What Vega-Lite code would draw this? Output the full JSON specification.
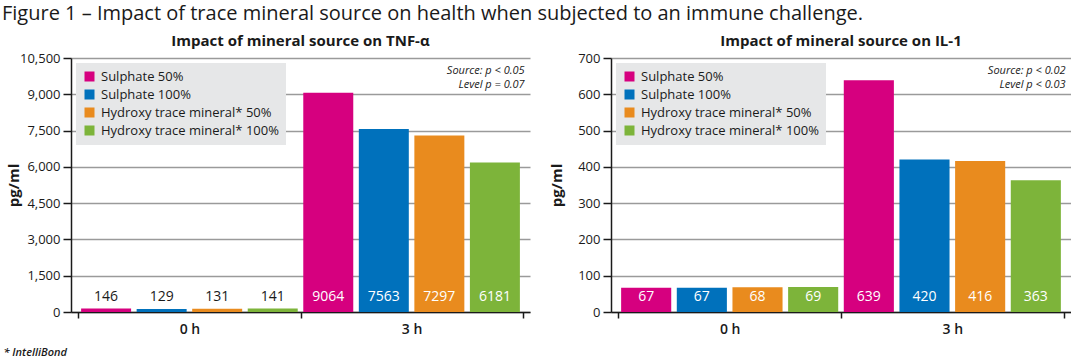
{
  "$schema": "https://vega.github.io/schema/vega-lite/v6.json",
  "padding": {"top": 4, "left": 2, "right": 0, "bottom": 0},
  "background": "white",
  "title": {
    "text": "Figure 1 – Impact of trace mineral source on health when subjected to an immune challenge.",
    "anchor": "start",
    "fontSize": 20,
    "fontWeight": "normal",
    "font": "Open Sans",
    "color": "#1a1a1a",
    "offset": 10,
    "dx": -1
  },
  "datasets": {
    "tnf": [
      {"time": "0 h", "group": "Sulphate 50%", "value": 146},
      {"time": "0 h", "group": "Sulphate 100%", "value": 129},
      {"time": "0 h", "group": "Hydroxy trace mineral* 50%", "value": 131},
      {"time": "0 h", "group": "Hydroxy trace mineral* 100%", "value": 141},
      {"time": "3 h", "group": "Sulphate 50%", "value": 9064},
      {"time": "3 h", "group": "Sulphate 100%", "value": 7563},
      {"time": "3 h", "group": "Hydroxy trace mineral* 50%", "value": 7297},
      {"time": "3 h", "group": "Hydroxy trace mineral* 100%", "value": 6181}
    ],
    "il1": [
      {"time": "0 h", "group": "Sulphate 50%", "value": 67},
      {"time": "0 h", "group": "Sulphate 100%", "value": 67},
      {"time": "0 h", "group": "Hydroxy trace mineral* 50%", "value": 68},
      {"time": "0 h", "group": "Hydroxy trace mineral* 100%", "value": 69},
      {"time": "3 h", "group": "Sulphate 50%", "value": 639},
      {"time": "3 h", "group": "Sulphate 100%", "value": 420},
      {"time": "3 h", "group": "Hydroxy trace mineral* 50%", "value": 416},
      {"time": "3 h", "group": "Hydroxy trace mineral* 100%", "value": 363}
    ]
  },
  "config": {
    "font": "Open Sans",
    "view": {"stroke": null},
    "title": {"fontSize": 15, "fontWeight": "bold", "color": "#1a1a1a", "offset": 3},
    "axisY": {
      "labelFontSize": 13,
      "labelColor": "#1a1a1a",
      "tickSize": 8,
      "labelPadding": 3,
      "grid": true,
      "gridColor": "#9a9a9a",
      "gridWidth": 1.5,
      "domainColor": "#1a1a1a",
      "domainWidth": 1.5,
      "tickColor": "#1a1a1a",
      "tickWidth": 1.5,
      "titleFontSize": 15,
      "titleFontWeight": "bold",
      "titleColor": "#1a1a1a"
    },
    "axisX": {
      "labelAngle": 0,
      "labelFontSize": 14,
      "labelFontWeight": 600,
      "labelColor": "#1a1a1a",
      "domainColor": "#1a1a1a",
      "domainWidth": 1.5,
      "tickSize": 6,
      "tickBand": "extent",
      "tickColor": "#1a1a1a",
      "tickWidth": 1.5,
      "labelPadding": 4,
      "grid": false
    },
    "legend": {
      "orient": "top-left",
      "offset": 5,
      "fillColor": "#e6e7e8",
      "padding": 7,
      "symbolType": "square",
      "symbolSize": 100,
      "symbolStrokeWidth": 0,
      "symbolOpacity": 1,
      "labelFontSize": 13,
      "labelColor": "#1a1a1a",
      "rowPadding": 4,
      "labelOffset": 5,
      "labelLimit": 300
    }
  },
  "spacing": 19,
  "resolve": {
    "scale": {"color": "independent", "y": "independent", "x": "independent", "xOffset": "independent"},
    "legend": {"color": "independent"}
  },
  "hconcat": [
    {
      "width": 459,
      "height": 254,
      "title": {"text": "Impact of mineral source on TNF-α"},
      "data": {"name": "tnf"},
      "layer": [
        {
          "mark": {"type": "bar"},
          "encoding": {
            "x": {
              "field": "time", "type": "nominal",
              "scale": {"paddingInner": 0, "paddingOuter": 0.033},
              "axis": {
                "title": "* IntelliBond",
                "titleFontSize": 11,
                "titleFontStyle": "italic",
                "titleFontWeight": 600,
                "titleColor": "#1a1a1a",
                "titleAnchor": "start",
                "titleAlign": "left",
                "titleBaseline": "middle",
                "titleX": -68,
                "titleY": 40,
                "encode": {"ticks": {"update": {"strokeOpacity": {"signal": "datum.value === '3 h' && !datum.extra ? 0 : 1"}}}}
              }
            },
            "xOffset": {
              "field": "group", "type": "nominal",
              "sort": ["Sulphate 50%", "Sulphate 100%", "Hydroxy trace mineral* 50%", "Hydroxy trace mineral* 100%"],
              "scale": {"paddingInner": 0.1, "paddingOuter": 0.05}
            },
            "y": {
              "field": "value", "type": "quantitative",
              "scale": {"domain": [0, 10500], "nice": false},
              "axis": {"values": [0, 1500, 3000, 4500, 6000, 7500, 9000, 10500], "format": ",d", "title": "pg/ml", "titleX": -50}
            },
            "color": {
              "field": "group", "type": "nominal",
              "scale": {
                "domain": ["Sulphate 50%", "Sulphate 100%", "Hydroxy trace mineral* 50%", "Hydroxy trace mineral* 100%"],
                "range": ["#d6007f", "#0071bc", "#e98b1e", "#7db43a"]
              },
              "legend": {"title": null}
            }
          }
        },
        {
          "mark": {"type": "text", "baseline": "middle", "dy": -15, "fontSize": 14},
          "encoding": {
            "x": {"field": "time", "type": "nominal"},
            "xOffset": {"field": "group", "type": "nominal", "sort": ["Sulphate 50%", "Sulphate 100%", "Hydroxy trace mineral* 50%", "Hydroxy trace mineral* 100%"]},
            "y": {"datum": 0, "type": "quantitative", "axis": {"values": [0, 1500, 3000, 4500, 6000, 7500, 9000, 10500], "format": ",d", "title": "pg/ml", "titleX": -50}},
            "text": {"field": "value", "type": "nominal"},
            "color": {"condition": {"test": "datum.value < 1000", "value": "#1a1a1a"}, "value": "white"}
          }
        },
        {
          "data": {"values": [{"note": "Source: p < 0.05\nLevel p = 0.07"}]},
          "mark": {"type": "text", "align": "right", "baseline": "top", "fontStyle": "italic", "fontSize": 11, "lineBreak": "\n", "lineHeight": 14, "dx": 2, "dy": 7, "color": "#1a1a1a"},
          "encoding": {
            "x": {"datum": "3 h", "bandPosition": 1},
            "y": {"datum": 10500, "type": "quantitative", "axis": {"values": [0, 1500, 3000, 4500, 6000, 7500, 9000, 10500], "format": ",d", "title": "pg/ml", "titleX": -50}},
            "text": {"field": "note"}
          }
        }
      ]
    },
    {
      "width": 460,
      "height": 254,
      "title": {"text": "Impact of mineral source on IL-1"},
      "data": {"name": "il1"},
      "layer": [
        {
          "mark": {"type": "bar"},
          "encoding": {
            "x": {
              "field": "time", "type": "nominal",
              "scale": {"paddingInner": 0, "paddingOuter": 0.033},
              "axis": {
                "title": null,
                "encode": {"ticks": {"update": {"strokeOpacity": {"signal": "datum.value === '3 h' && !datum.extra ? 0 : 1"}}}}
              }
            },
            "xOffset": {
              "field": "group", "type": "nominal",
              "sort": ["Sulphate 50%", "Sulphate 100%", "Hydroxy trace mineral* 50%", "Hydroxy trace mineral* 100%"],
              "scale": {"paddingInner": 0.1, "paddingOuter": 0.05}
            },
            "y": {
              "field": "value", "type": "quantitative",
              "scale": {"domain": [0, 700], "nice": false},
              "axis": {"values": [0, 100, 200, 300, 400, 500, 600, 700], "title": "pg/ml", "titleX": -47}
            },
            "color": {
              "field": "group", "type": "nominal",
              "scale": {
                "domain": ["Sulphate 50%", "Sulphate 100%", "Hydroxy trace mineral* 50%", "Hydroxy trace mineral* 100%"],
                "range": ["#d6007f", "#0071bc", "#e98b1e", "#7db43a"]
              },
              "legend": {"title": null}
            }
          }
        },
        {
          "mark": {"type": "text", "baseline": "middle", "dy": -15, "fontSize": 14, "color": "white"},
          "encoding": {
            "x": {"field": "time", "type": "nominal"},
            "xOffset": {"field": "group", "type": "nominal", "sort": ["Sulphate 50%", "Sulphate 100%", "Hydroxy trace mineral* 50%", "Hydroxy trace mineral* 100%"]},
            "y": {"datum": 0, "type": "quantitative", "axis": {"values": [0, 100, 200, 300, 400, 500, 600, 700], "title": "pg/ml", "titleX": -47}},
            "text": {"field": "value", "type": "nominal"}
          }
        },
        {
          "data": {"values": [{"note": "Source: p < 0.02\nLevel p < 0.03"}]},
          "mark": {"type": "text", "align": "right", "baseline": "top", "fontStyle": "italic", "fontSize": 11, "lineBreak": "\n", "lineHeight": 14, "dx": 2, "dy": 7, "color": "#1a1a1a"},
          "encoding": {
            "x": {"datum": "3 h", "bandPosition": 1},
            "y": {"datum": 700, "type": "quantitative", "axis": {"values": [0, 100, 200, 300, 400, 500, 600, 700], "title": "pg/ml", "titleX": -47}},
            "text": {"field": "note"}
          }
        }
      ]
    }
  ]
}
